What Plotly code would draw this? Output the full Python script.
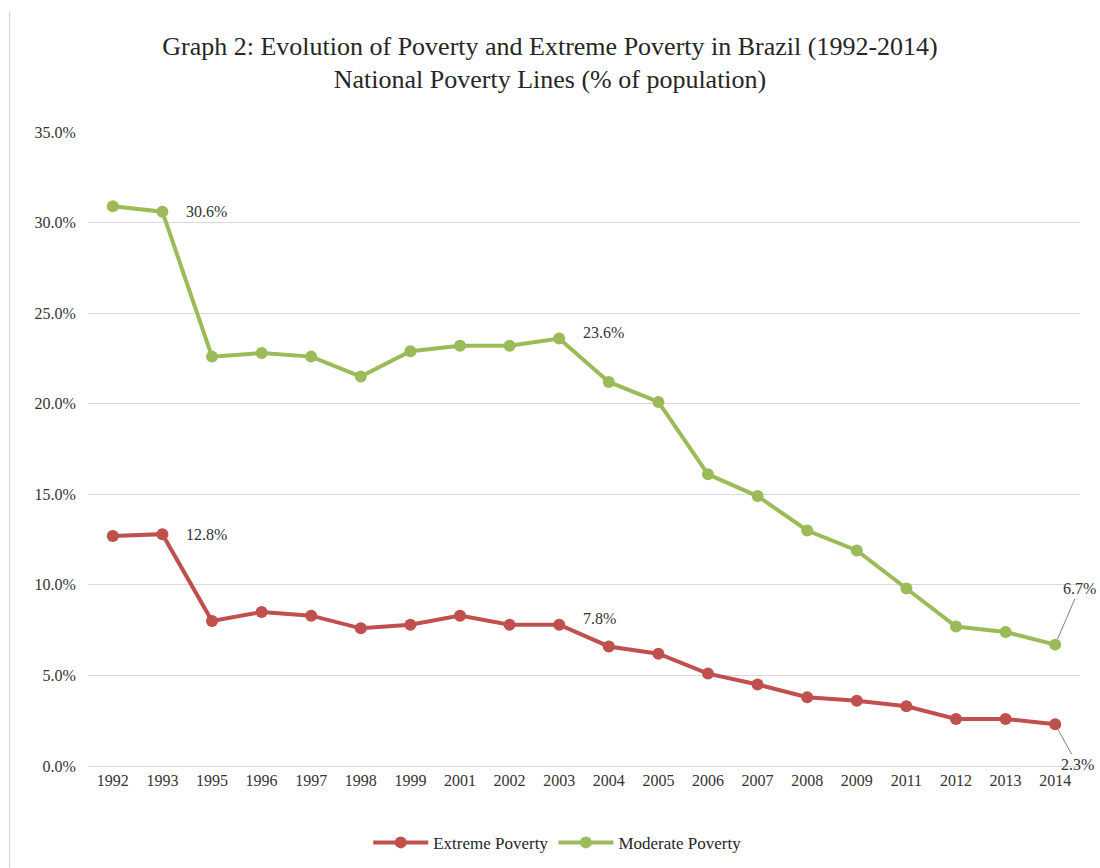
import plotly.graph_objects as go

years = ["1992", "1993", "1995", "1996", "1997", "1998", "1999", "2001", "2002", "2003",
         "2004", "2005", "2006", "2007", "2008", "2009", "2011", "2012", "2013", "2014"]
extreme = [12.7, 12.8, 8.0, 8.5, 8.3, 7.6, 7.8, 8.3, 7.8, 7.8,
           6.6, 6.2, 5.1, 4.5, 3.8, 3.6, 3.3, 2.6, 2.6, 2.3]
moderate = [30.9, 30.6, 22.6, 22.8, 22.6, 21.5, 22.9, 23.2, 23.2, 23.6,
            21.2, 20.1, 16.1, 14.9, 13.0, 11.9, 9.8, 7.7, 7.4, 6.7]
y_ticks = [0, 5, 10, 15, 20, 25, 30, 35]

RED = "#C0504D"
GREEN = "#9BBB59"
FONT = "Liberation Serif"

fig = go.Figure()
fig.add_trace(go.Scatter(
    x=years, y=extreme, name="Extreme Poverty", mode="lines+markers",
    line=dict(color=RED, width=4), marker=dict(color=RED, size=12),
))
fig.add_trace(go.Scatter(
    x=years, y=moderate, name="Moderate Poverty", mode="lines+markers",
    line=dict(color=GREEN, width=4), marker=dict(color=GREEN, size=12),
))

# value labels on selected points (x given as category index)
def label(series, idx, xshift, yshift=0, arrow=None):
    val = series[idx]
    txt = f"{val:.1f}%"
    if arrow is None:
        fig.add_annotation(x=idx, y=val, text=txt, showarrow=False,
                           xanchor="left", xshift=xshift, yshift=yshift,
                           font=dict(family=FONT, size=16, color="#333333"))
    else:
        fig.add_annotation(x=idx, y=val, text=txt, showarrow=True,
                           ax=arrow[0], ay=arrow[1], arrowhead=0, arrowwidth=1,
                           arrowcolor="#7f7f7f", standoff=6,
                           font=dict(family=FONT, size=16, color="#333333"))

label(moderate, 1, 22)
label(moderate, 9, 22, 6)
label(extreme, 1, 22)
label(extreme, 9, 22, 6)
label(moderate, 19, 0, arrow=(24, -56))
label(extreme, 19, 0, arrow=(22, 40))

fig.update_layout(
    width=1100, height=868,
    margin=dict(l=88, r=20, t=132, b=102, autoexpand=False),
    paper_bgcolor="white", plot_bgcolor="white",
    title=dict(
        text="Graph 2: Evolution of Poverty and Extreme Poverty in Brazil (1992-2014)<br>"
             "National Poverty Lines (% of population)",
        x=0.5, xanchor="center", y=0.937, yanchor="middle",
        font=dict(family=FONT, size=26, color="#262626"),
    ),
    font=dict(family=FONT, size=16, color="#333333"),
    showlegend=True,
    legend=dict(orientation="h", x=0.473, xanchor="center",
                yref="container", y=0.029, yanchor="middle",
                font=dict(family=FONT, size=17, color="#262626"), itemwidth=55,
                tracegroupgap=0),
    shapes=[dict(type="line", xref="paper", yref="paper",
                 x0=-0.079, x1=-0.079, y0=-0.16, y1=1.19,
                 line=dict(color="#d0d0d0", width=1))],
)
fig.update_xaxes(type="category", range=[-0.5, len(years) - 0.5],
                 showgrid=False, showline=True, linecolor="#d9d9d9",
                 ticks="", tickfont=dict(family=FONT, size=16, color="#333333"))
fig.update_yaxes(range=[0, 35], tickvals=y_ticks,
                 ticktext=[f"{v:.1f}%" for v in y_ticks],
                 showgrid=True, gridcolor="#d9d9d9", gridwidth=1, zeroline=False,
                 ticks="outside", ticklen=8, tickcolor="white",
                 tickfont=dict(family=FONT, size=16, color="#333333"))

fig.write_html("out.html")
